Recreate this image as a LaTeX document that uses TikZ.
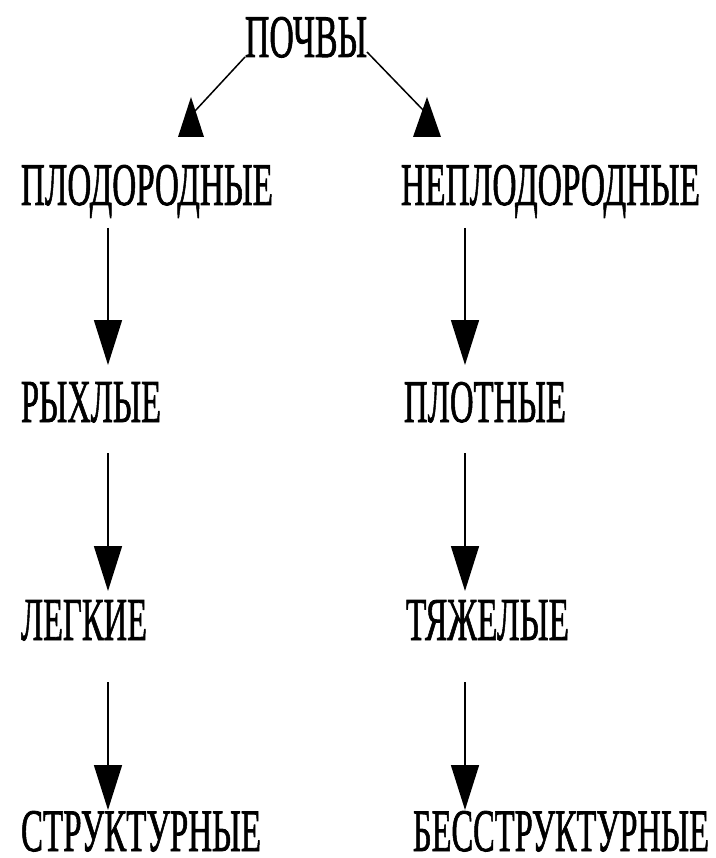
\documentclass[tikz,border=0pt]{standalone}
\usepackage{fontspec}
\setmainfont{Liberation Serif}
\newfontfamily\lblfont[FakeBold=1.5]{Liberation Serif}
\usetikzlibrary{arrows.meta,calc}
\newcommand{\lbl}[2]{\resizebox{#1pt}{40pt}{\fontsize{40}{40}\lblfont #2}}
\tikzset{
  lab/.style={inner sep=0pt, outer sep=0pt, anchor=base west},
  varrow/.style={line width=1.6pt, -{Triangle[width=28pt,length=45pt]}},
  darrow/.style={line width=1.5pt},
  uptri/.style={fill=black}
}
\begin{document}
\begin{tikzpicture}[x=1pt,y=-1pt]
\useasboundingbox (0,0) rectangle (715,858);
\fill[white] (0,0) rectangle (715,858);
% labels
\node[lab] (pochvy) at (245,57) {\lbl{122}{ПОЧВЫ}};
\node[lab] (plod)   at (21,205)  {\lbl{252}{ПЛОДОРОДНЫЕ}};
\node[lab] (neplod) at (401,205) {\lbl{299}{НЕПЛОДОРОДНЫЕ}};
\node[lab] (rykh)   at (21,422)  {\lbl{140}{РЫХЛЫЕ}};
\node[lab] (plot)   at (404,422) {\lbl{162}{ПЛОТНЫЕ}};
\node[lab] (legk)   at (21,640)  {\lbl{126}{ЛЕГКИЕ}};
\node[lab] (tyazh)  at (406,640) {\lbl{163}{ТЯЖЕЛЫЕ}};
\node[lab] (strukt) at (21,851)  {\lbl{240}{СТРУКТУРНЫЕ}};
\node[lab] (bes)    at (413,851) {\lbl{296}{БЕССТРУКТУРНЫЕ}};
% column guides
\coordinate (L) at (108,0);
\coordinate (R) at (465,0);
% top connectors with upward triangles
\coordinate (ltip) at (191,97);
\coordinate (rtip) at (427,97);
\draw[darrow] (pochvy.base west) -- ($(ltip)+(4,14)$);
\draw[darrow] ($(pochvy.base east)+(0,-5)$) -- ($(rtip)+(-3,14)$);
\fill[uptri] (ltip) -- ++(-13,40) -- ++(26,0) -- cycle;
\fill[uptri] (rtip) -- ++(-14,40) -- ++(28,0) -- cycle;
% vertical connectors
\draw[varrow] ($(plod.base -| L)+(0,23)$) -- ($(rykh.north -| L)+(0,-17)$);
\draw[varrow] ($(neplod.base -| R)+(0,23)$) -- ($(plot.north -| R)+(0,-17)$);
\draw[varrow] ($(rykh.base -| L)+(0,31)$) -- ($(legk.north -| L)+(0,-9)$);
\draw[varrow] ($(plot.base -| R)+(0,31)$) -- ($(tyazh.north -| R)+(0,-9)$);
\draw[varrow] ($(legk.base -| L)+(0,42)$) -- ($(strukt.north -| L)+(0,-1)$);
\draw[varrow] ($(tyazh.base -| R)+(0,42)$) -- ($(bes.north -| R)+(0,-1)$);
\end{tikzpicture}
\end{document}
